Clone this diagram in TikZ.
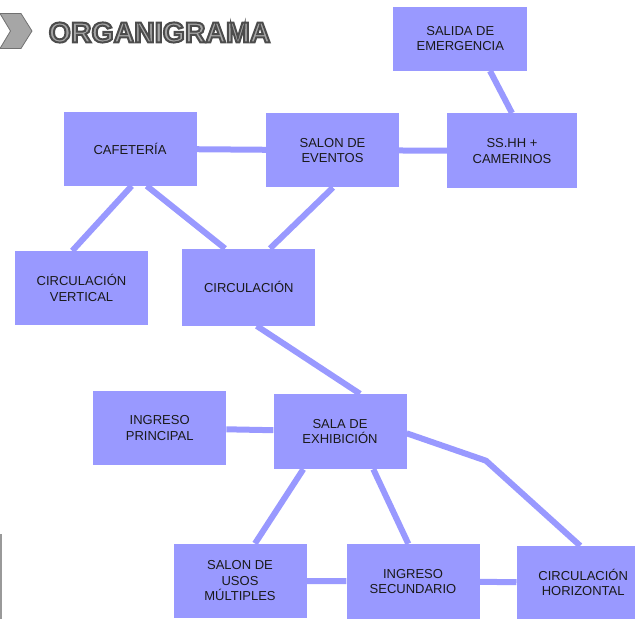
\documentclass[tikz,border=0pt]{standalone}
\usepackage{fontspec}
\setmainfont{Liberation Sans}
\usepackage{tikz}
\usepackage{xcolor}
\definecolor{OrgLila}{HTML}{9999FF}
\definecolor{OrgTexto}{HTML}{1A1A1A}
\definecolor{OrgGris}{HTML}{A6A6A6}
\definecolor{OrgBorde}{HTML}{4D4D4D}

\begin{document}
\begin{tikzpicture}[x=1pt,y=-1pt,every node/.style={font=\fontsize{13}{15.5}\selectfont,align=center,text=OrgTexto},
    caja/.style={fill=OrgLila,inner sep=0pt,minimum width=133pt,minimum height=74pt},
    enlace/.style={OrgLila,line width=6pt}]
    \useasboundingbox (0,0) rectangle (635,619);
    \clip (0,0) rectangle (635,619);
    % titulo
    \fill[OrgGris,draw=OrgBorde!80,line width=0.8pt] (0,13.5) -- (21,13.5) -- (32,31) -- (21,48.5) -- (0,48.5) -- (10.5,31) -- cycle;
    \node[anchor=west,inner sep=0pt,font=\fontsize{28.5}{30}\selectfont\bfseries] (titulo) at (48.5,32.5)
      {\color{OrgGris}\special{pdf:literal direct 2 Tr 2 w 0.3 0.3 0.3 RG}ORGANIGRAMA\special{pdf:literal direct 0 Tr}};
    \draw[gray!80,line width=1.5pt] (1,534) -- (1,619);
    % cajas
    \node[caja,minimum width=134pt,minimum height=64pt] (salida) at (460.3,38.7) {SALIDA DE\\EMERGENCIA};
    \node[caja] (caf) at (130,148.7) {CAFETERÍA};
    \node[caja] (salon) at (332.5,150.3) {SALON DE\\EVENTOS};
    \node[caja,minimum width=129.4pt,minimum height=75pt] (sshh) at (512,150.8) {SS.HH +\\CAMERINOS};
    \node[caja] (cv) at (81.5,288) {CIRCULACIÓN\\VERTICAL};
    \node[caja,minimum height=77pt] (circ) at (248.8,287.2) {CIRCULACIÓN};
    \node[caja] (ip) at (159.7,428) {INGRESO\\PRINCIPAL};
    \node[caja,minimum height=75pt] (sala) at (340,431.5) {SALA DE\\EXHIBICIÓN};
    \node[caja] (usos) at (240,580.7) {SALON DE\\USOS\\MÚLTIPLES};
    \node[caja,minimum height=75pt] (ingsec) at (413,581.5) {INGRESO\\SECUNDARIO};
    \node[caja,minimum height=73pt] (horiz) at (583.2,582.5) {CIRCULACIÓN\\HORIZONTAL};
    \coordinate (quiebre) at (486,460.7);
    % enlaces
    \foreach \x/\y in {caf/salon,salon/sshh,ip/sala,usos/ingsec,ingsec/horiz}{\draw[enlace] (\x)--(\y);}
    \draw[enlace] ([xshift=29.7pt]salida.south) -- (sshh.north);
    \draw[enlace] ([xshift=1.7pt]caf.south) -- ([xshift=-9.2pt]cv.north);
    \draw[enlace] ([xshift=16.7pt]caf.south) -- ([xshift=-23.8pt]circ.north);
    \draw[enlace] ([xshift=0.5pt]salon.south) -- ([xshift=21.2pt]circ.north);
    \draw[enlace] ([xshift=7.9pt]circ.south) -- ([xshift=20pt]sala.north);
    \draw[enlace] ([xshift=-36.7pt]sala.south) -- ([xshift=15pt]usos.north);
    \draw[enlace] ([xshift=33.3pt]sala.south) -- ([xshift=-4.7pt]ingsec.north);
    \draw[enlace,line join=round] ([yshift=-1.8pt]sala.east) -- (quiebre) -- ([xshift=-3pt]horiz.north);
  \end{tikzpicture}
\end{document}
